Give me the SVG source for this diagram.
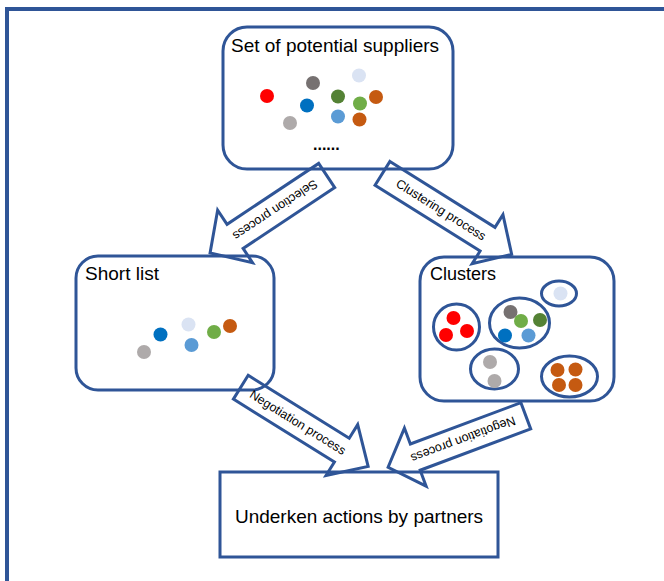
<svg xmlns="http://www.w3.org/2000/svg" width="664" height="581" viewBox="0 0 664 581">
<style>
.frame{fill:none;stroke:#2F5597;stroke-width:4}
.node{fill:#fff;stroke:#2F5597;stroke-width:3}
.grp{fill:none;stroke:#2F5597;stroke-width:3}
.arrow{fill:none;stroke:#2F5597;stroke-width:3;stroke-linejoin:miter}
.t{font-family:"Liberation Sans",Arial,sans-serif;font-size:19px;fill:#000}
.at{font-family:"Liberation Sans",Arial,sans-serif;font-size:12.5px;fill:#000;text-anchor:middle;dominant-baseline:central}
.red{fill:#FF0000}.dg{fill:#767171}.lav{fill:#DAE3F3}.blu{fill:#0070C0}.dgr{fill:#548235}.gr{fill:#70AD47}.or{fill:#C55A11}.lg{fill:#AEAAAA}.lb{fill:#5B9BD5}
</style>
<rect class="frame" x="7" y="9" width="700" height="620"/>

<g id="suppliers">
<rect class="node" x="223" y="27" width="230" height="142" rx="24"/>
<text class="t" x="231" y="52">Set of potential suppliers</text>
<circle class="red" cx="267" cy="96" r="7"/>
<circle class="dg" cx="313" cy="83" r="7"/>
<circle class="lav" cx="359" cy="75.5" r="7"/>
<circle class="blu" cx="307" cy="105.5" r="7"/>
<circle class="dgr" cx="338" cy="96.5" r="7"/>
<circle class="gr" cx="360" cy="103.5" r="7"/>
<circle class="or" cx="376" cy="97" r="7"/>
<circle class="lg" cx="290" cy="123" r="7"/>
<circle class="lb" cx="338" cy="116.5" r="7"/>
<circle class="or" cx="359.5" cy="119.5" r="7"/>
<text x="313" y="150" style="font-family:'Liberation Sans',Arial,sans-serif;font-size:16px;font-weight:bold">......</text>
</g>

<g id="shortlist">
<rect class="node" x="76" y="256" width="198" height="134" rx="22"/>
<text class="t" x="85" y="280">Short list</text>
<circle class="blu" cx="160.5" cy="334.5" r="7"/>
<circle class="lav" cx="188.5" cy="324.5" r="7"/>
<circle class="gr" cx="214" cy="332" r="7"/>
<circle class="or" cx="230" cy="326" r="7"/>
<circle class="lb" cx="191.5" cy="345" r="7"/>
<circle class="lg" cx="144" cy="352" r="7"/>
</g>

<g id="clusters">
<rect class="node" x="420" y="257" width="194" height="144" rx="24"/>
<text class="t" x="430" y="280" style="font-size:18px">Clusters</text>
<ellipse class="grp" cx="456.5" cy="327" rx="23" ry="23"/>
<circle class="red" cx="453.5" cy="318" r="7"/>
<circle class="red" cx="446" cy="335" r="7"/>
<circle class="red" cx="467" cy="331" r="7"/>
<ellipse class="grp" cx="519.5" cy="323" rx="30" ry="25"/>
<circle class="dg" cx="510.5" cy="312" r="7"/>
<circle class="gr" cx="521" cy="321" r="7"/>
<circle class="dgr" cx="540" cy="320" r="7"/>
<circle class="blu" cx="505" cy="335.5" r="7"/>
<circle class="lb" cx="528.5" cy="335.5" r="7"/>
<ellipse class="grp" cx="559" cy="293.5" rx="17.5" ry="12.5"/>
<circle class="lav" cx="560.5" cy="293.5" r="7"/>
<ellipse class="grp" cx="494.5" cy="369" rx="24" ry="20"/>
<circle class="lg" cx="490" cy="362" r="7"/>
<circle class="lg" cx="494.5" cy="381" r="7"/>
<ellipse class="grp" cx="569.5" cy="376.5" rx="28" ry="20.5"/>
<circle class="or" cx="557.5" cy="370" r="7"/>
<circle class="or" cx="575.5" cy="369.5" r="7"/>
<circle class="or" cx="559" cy="385" r="7"/>
<circle class="or" cx="575.5" cy="385" r="7"/>
</g>

<g id="actions">
<rect class="node" x="220" y="472" width="278" height="85"/>
<text class="t" x="359" y="523" text-anchor="middle">Underken actions by partners</text>
</g>

<g id="connectors">
<g transform="translate(326.7,175.5) rotate(146.4)">
<polygon class="arrow" points="0,-14.5 110,-14.5 110,-31.5 140,0 110,31.5 110,14.5 0,14.5"/>
<text class="at" x="62" y="0">Selection process</text>
</g>
<g transform="translate(382.5,173.3) rotate(32.1)">
<polygon class="arrow" points="0,-14 124,-14 124,-29 152.5,0 124,29 124,14 0,14"/>
<text class="at" x="69" y="0">Clustering process</text>
</g>
<g transform="translate(240.8,387.2) rotate(31.9)">
<polygon class="arrow" points="0,-14 119,-14 119,-30 150,0 119,30 119,14 0,14"/>
<text class="at" x="67" y="0">Negotiation process</text>
</g>
<g transform="translate(525.8,415.8) rotate(159.5)">
<polygon class="arrow" points="0,-14 118,-14 118,-31 147,0 118,31 118,14 0,14"/>
<text class="at" x="67" y="0">Negotiation process</text>
</g>
</g>
</svg>
